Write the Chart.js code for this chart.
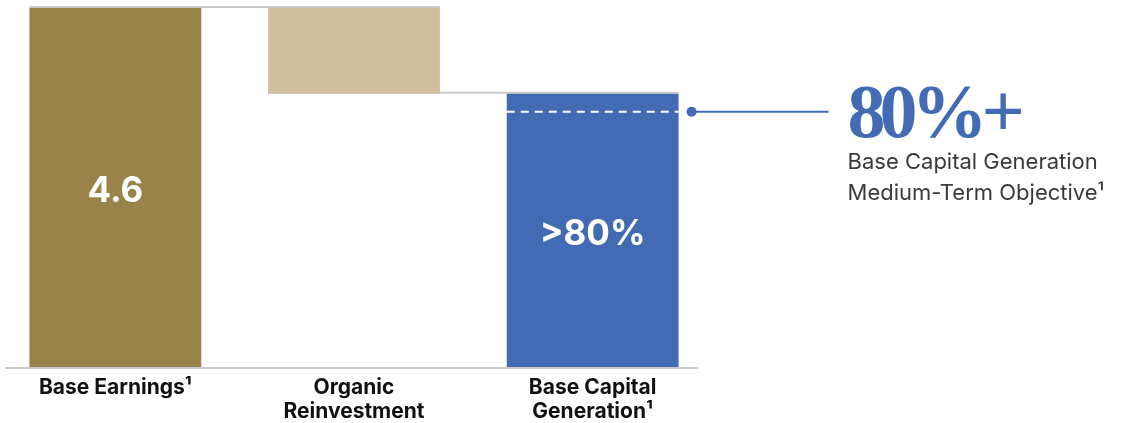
<!DOCTYPE html>
<html>
<head>
<meta charset="utf-8">
<script src="https://cdn.jsdelivr.net/npm/chart.js@4.4.1/dist/chart.umd.min.js"></script>
<style>
  html, body { margin: 0; padding: 0; background: #fff; overflow: hidden; }
  #wrap { width: 1131px; height: 423px; overflow: hidden; }
  #chart { margin-left: -4px; display: block; }
</style>
</head>
<body>
<div id="wrap"><canvas id="chart" width="1135" height="423"></canvas></div>
<script>
// categories and values (floating waterfall bars)
const categories = [['Base Earnings¹'], ['Organic', 'Reinvestment'], ['Base Capital', 'Generation¹']];
const barStarts = [0, 3.5, 0];
const barEnds = [4.6, 4.6, 3.5];
const barColors = ['#9A8348', '#CFBF9F', '#436BB3'];
const barLabels = ['4.6', '', '>80%'];
const objectiveValue = 3.27;
const objectiveTitle = '80%+';
const objectiveLines = ['Base Capital Generation', 'Medium-Term Objective¹'];

const blue = '#436BB3';

// value shared by two neighbouring bars (where the connector goes)
function sharedLevel(i) {
    const a = [barEnds[i], barStarts[i]];
    const b = [barEnds[i + 1], barStarts[i + 1]];
    for (let k = 0; k < a.length; k++) {
        if (a[k] !== 0 && b.indexOf(a[k]) !== -1) return a[k];
    }
    return barEnds[i];
}

const waterfallExtras = {
    id: 'waterfallExtras',
    beforeDatasetsDraw: function(chart) {
        const ctx = chart.ctx;
        const bars = chart.getDatasetMeta(0).data;
        const y = chart.scales.y;
        const area = chart.chartArea;
        ctx.save();
        ctx.strokeStyle = '#c9c9c9';
        ctx.lineWidth = 2;
        // connectors between bars
        for (let i = 0; i < bars.length - 1; i++) {
            const level = y.getPixelForValue(sharedLevel(i));
            ctx.beginPath();
            ctx.moveTo(bars[i].x - bars[i].width / 2, level - 1);
            ctx.lineTo(bars[i + 1].x + bars[i + 1].width / 2, level - 1);
            ctx.stroke();
        }
        // baseline
        ctx.beginPath();
        ctx.moveTo(area.left + 9, area.bottom + 1);
        ctx.lineTo(area.right - 14, area.bottom + 1);
        ctx.stroke();
        ctx.restore();
    },
    afterDatasetsDraw: function(chart) {
        const ctx = chart.ctx;
        const bars = chart.getDatasetMeta(0).data;
        const y = chart.scales.y;
        ctx.save();

        // value labels in the bars
        ctx.fillStyle = '#fff';
        ctx.font = 'bold 35px Inter';
        ctx.textAlign = 'center';
        ctx.textBaseline = 'middle';
        bars.forEach(function(bar, i) {
            if (!barLabels[i]) return;
            const mid = (y.getPixelForValue(barStarts[i]) + y.getPixelForValue(barEnds[i])) / 2;
            ctx.fillText(barLabels[i], bar.x, mid + 4);
        });

        // objective dashed line across last bar
        const last = bars[bars.length - 1];
        const oy = y.getPixelForValue(objectiveValue);
        ctx.strokeStyle = '#fff';
        ctx.lineWidth = 2;
        ctx.setLineDash([8, 6]);
        ctx.beginPath();
        ctx.moveTo(last.x - last.width / 2, oy);
        ctx.lineTo(last.x + last.width / 2, oy);
        ctx.stroke();
        ctx.setLineDash([]);

        // leader line to the annotation
        const startX = last.x + last.width / 2 + 13;
        ctx.strokeStyle = blue;
        ctx.fillStyle = blue;
        ctx.beginPath();
        ctx.arc(startX, oy, 5, 0, Math.PI * 2);
        ctx.fill();
        ctx.beginPath();
        ctx.moveTo(startX, oy);
        ctx.lineTo(startX + 137, oy);
        ctx.stroke();

        // annotation text
        const tx = startX + 156;
        ctx.textAlign = 'left';
        ctx.textBaseline = 'alphabetic';
        ctx.font = 'bold 76px "Liberation Serif"';
        ctx.letterSpacing = '-6px';
        ctx.fillText(objectiveTitle, tx, oy + 25);
        ctx.letterSpacing = '0px';
        ctx.fillStyle = '#3a3a3a';
        ctx.font = '22px Inter';
        ctx.fillText(objectiveLines[0], tx, oy + 57);
        ctx.fillText(objectiveLines[1], tx, oy + 88);
        ctx.restore();
    }
};

const chart = new Chart(document.getElementById('chart'), {
    type: 'bar',
    data: {
        labels: categories,
        datasets: [{
            data: barStarts.map(function(s, i) { return [s, barEnds[i]]; }),
            backgroundColor: barColors,
            borderWidth: 0,
            borderSkipped: false,
            barPercentage: 0.72,
            categoryPercentage: 1
        }]
    },
    options: {
        responsive: false,
        animation: false,
        layout: { padding: { left: 0, right: 419, top: 8, bottom: 0 } },
        plugins: {
            legend: { display: false },
            tooltip: { enabled: false }
        },
        scales: {
            x: {
                grid: { display: false, drawTicks: false },
                border: { display: false },
                afterFit: function(scale) { scale.height = 56; },
                ticks: {
                    color: '#111',
                    padding: 9,
                    maxRotation: 0,
                    font: { family: 'Inter', size: 21, weight: '700', lineHeight: 1.13 }
                }
            },
            y: {
                display: false,
                min: 0,
                max: 4.6
            }
        }
    },
    plugins: [waterfallExtras]
});
</script>
</body>
</html>
